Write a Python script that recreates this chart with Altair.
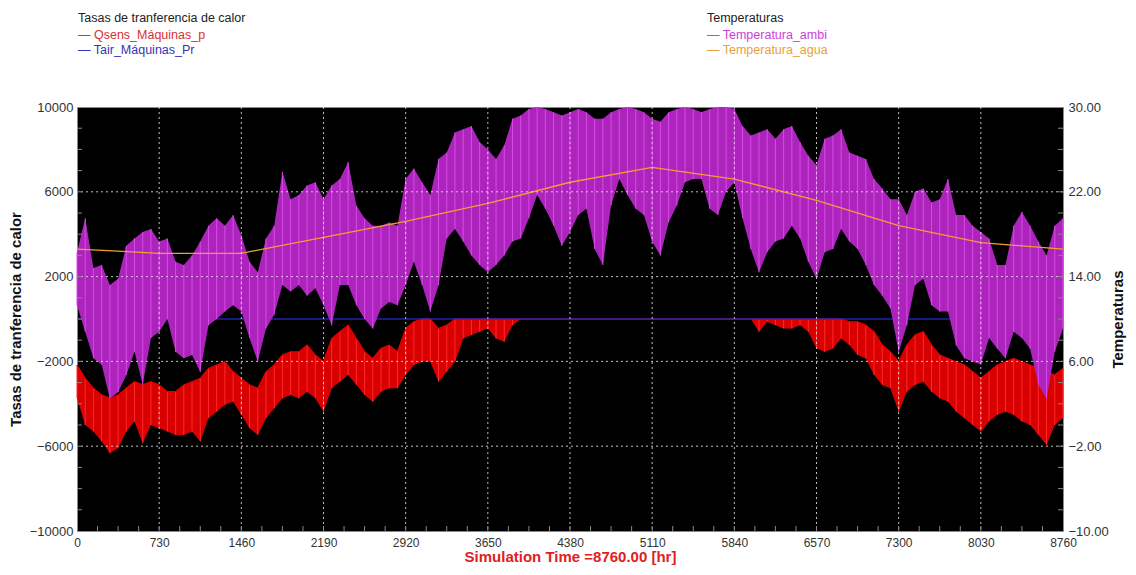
import altair as alt
import pandas as pd

# ---------------- data ----------------
HOURS = [0, 73, 146, 219, 292, 365, 438, 511, 584, 657, 730, 803, 876, 949, 1022, 1095, 1168, 1241,
         1314, 1387, 1460, 1533, 1606, 1679, 1752, 1825, 1898, 1971, 2044, 2117, 2190, 2263, 2336,
         2409, 2482, 2555, 2628, 2701, 2774, 2847, 2920, 2993, 3066, 3139, 3212, 3285, 3358, 3431,
         3504, 3577, 3650, 3723, 3796, 3869, 3942, 4015, 4088, 4161, 4234, 4307, 4380, 4453, 4526,
         4599, 4672, 4745, 4818, 4891, 4964, 5037, 5110, 5183, 5256, 5329, 5402, 5475, 5548, 5621,
         5694, 5767, 5840, 5913, 5986, 6059, 6132, 6205, 6278, 6351, 6424, 6497, 6570, 6643, 6716,
         6789, 6862, 6935, 7008, 7081, 7154, 7227, 7300, 7373, 7446, 7519, 7592, 7665, 7738, 7811,
         7884, 7957, 8030, 8103, 8176, 8249, 8322, 8395, 8468, 8541, 8614, 8687, 8760]

# Temperatura_ambi envelope (right axis, deg C)
AMB_HI = [16.3, 19.5, 14.8, 15.1, 13.2, 13.8, 16.9, 17.6, 18.2, 18.5,
          17.3, 17.6, 15.4, 15.1, 16.0, 17.3, 18.8, 19.5, 18.8, 19.8,
          17.9, 15.4, 14.4, 17.6, 18.8, 23.9, 21.3, 21.7, 22.6, 22.9,
          21.3, 22.6, 23.2, 24.8, 20.7, 19.5, 18.8, 18.8, 19.1, 18.8,
          23.2, 24.2, 22.9, 21.7, 25.1, 25.7, 27.6, 27.9, 28.2, 26.7,
          26.0, 25.1, 26.4, 28.9, 29.2, 29.8, 30.0, 29.8, 29.5, 29.2,
          29.5, 29.8, 29.5, 28.9, 28.9, 29.5, 29.8, 30.0, 29.8, 29.5,
          28.9, 28.6, 29.5, 29.8, 30.0, 29.8, 29.5, 29.8, 30.0, 30.0,
          29.8, 28.2, 27.3, 27.6, 27.9, 27.0, 27.9, 28.2, 26.7, 25.4,
          24.5, 27.0, 27.3, 27.9, 25.7, 25.4, 25.1, 23.2, 22.3, 21.3,
          21.3, 19.8, 22.0, 22.3, 21.0, 21.3, 23.2, 19.8, 19.8, 18.8,
          18.2, 17.6, 15.1, 15.1, 18.8, 20.1, 18.8, 17.3, 16.0, 18.8,
          19.5]
AMB_LO = [11.3, 8.8, 6.3, 5.7, 2.5, 3.1, 4.7, 6.9, 3.8, 8.2,
          8.8, 10.0, 6.9, 6.3, 6.6, 5.0, 9.4, 10.0, 10.7, 11.3,
          10.7, 8.2, 6.0, 9.1, 10.4, 13.2, 12.6, 13.2, 12.2, 12.9,
          11.3, 9.4, 13.2, 13.2, 11.3, 10.0, 9.1, 11.0, 11.6, 11.3,
          13.2, 15.4, 13.2, 10.7, 13.2, 17.6, 18.5, 17.3, 16.0, 15.1,
          14.4, 15.1, 16.0, 17.3, 17.6, 19.5, 21.7, 20.4, 18.8, 16.9,
          18.2, 19.8, 20.4, 16.6, 15.1, 20.7, 23.2, 21.7, 20.4, 19.8,
          17.3, 16.0, 19.1, 20.7, 22.9, 23.2, 23.2, 20.4, 19.8, 22.0,
          22.9, 19.5, 16.6, 14.4, 16.3, 17.3, 17.6, 18.8, 17.6, 15.4,
          13.8, 16.3, 16.6, 18.5, 17.3, 16.6, 15.1, 13.2, 12.2, 11.0,
          6.9, 9.4, 13.2, 13.8, 11.3, 10.7, 10.7, 7.5, 6.3, 6.0,
          5.7, 8.2, 7.2, 6.3, 8.8, 8.2, 7.2, 3.8, 2.5, 6.9,
          9.1]

# Qsens_Maquinas_p envelope (left axis)
Q_HI = [-2170, -2800, -3270, -3580, -3740, -3580, -3270, -2960, -3110, -2960,
        -3110, -3430, -3430, -3110, -2960, -2800, -2330, -2170, -2020, -2490,
        -2800, -3110, -3270, -2490, -2170, -1700, -1550, -1550, -1230, -1700,
        -2020, -920, -600, -290, -920, -1550, -1860, -1390, -1230, -1550,
        -450, -130, 0, 0, -450, -290,
        0, 0, 0, 0, 0, 0, 0, 0, 0, 0, 0, 0, 0, 0, 0, 0, 0, 0, 0, 0, 0, 0, 0, 0,
        0, 0, 0, 0, 0, 0, 0, 0, 0, 0, 0, 0, 0, 0, 0, 0, 0, 0, 0, 0, 0, 0, 0, 0,
        -130, -130, -290, -600, -1230, -1550, -2020, -1230, -760, -600,
        -1230, -1700, -1860, -2020, -2170, -2490, -2800, -2490, -2170, -2020,
        -1860, -2020, -2170, -2330, -2490, -2640, -2330]
Q_LO = [-3740, -5000, -5310, -5780, -6330, -6090, -5310, -4840, -5860, -5000,
        -5150, -5310, -5470, -5470, -5310, -5780, -4680, -4370, -4050, -3900,
        -4520, -5150, -5470, -4680, -4210, -3740, -3580, -3740, -3430, -3740,
        -4370, -3270, -2960, -2640, -3110, -3580, -3900, -3430, -3270, -3270,
        -2640, -2170, -2020, -2020, -2960, -2490, -2020, -920, -760, -600,
        -450, -920, -1070, -290,
        0, 0, 0, 0, 0, 0, 0, 0, 0, 0, 0, 0, 0, 0, 0, 0, 0, 0, 0, 0, 0, 0, 0, 0,
        0, 0, 0, 0, 0,
        -600, -130, -290, -450, -450, -290, -600,
        -1390, -1550, -1390, -920, -1230, -1700, -1860, -2640, -3110, -3270,
        -4370, -3430, -3110, -2960, -3430, -3740, -3900, -4370, -4680, -5000,
        -5310, -4840, -4520, -4370, -4520, -4840, -5000, -5470, -5940, -5000,
        -4680]

# Temperatura_agua (right axis)
AGUA_HOURS = [0, 365, 730, 1460, 2190, 2920, 3650, 4380, 5110, 5840, 6570, 7300, 8030, 8760]
AGUA_T = [16.6, 16.4, 16.2, 16.2, 17.7, 19.2, 20.9, 22.9, 24.3, 23.2, 21.2, 18.8, 17.2, 16.6]

# Tair_Maquinas_Pr (left axis)
TAIR_HOURS = [0, 8760]
TAIR_Q = [0, 0]

X_TICKS = [0, 730, 1460, 2190, 2920, 3650, 4380, 5110, 5840, 6570, 7300, 8030, 8760]
X_GRID = [730, 1460, 2190, 2920, 3650, 4380, 5110, 5840, 6570, 7300, 8030]
X_MINOR = [182.5, 365, 547.5, 730, 912.5, 1095, 1277.5, 1460, 1642.5, 1825, 2007.5, 2190,
           2372.5, 2555, 2737.5, 2920, 3102.5, 3285, 3467.5, 3650, 3832.5, 4015, 4197.5, 4380,
           4562.5, 4745, 4927.5, 5110, 5292.5, 5475, 5657.5, 5840, 6022.5, 6205, 6387.5, 6570,
           6752.5, 6935, 7117.5, 7300, 7482.5, 7665, 7847.5, 8030, 8212.5, 8395, 8577.5]
Q_TICKS = [-10000, -6000, -2000, 2000, 6000, 10000]
T_TICKS = [-10, -2, 6, 14, 22, 30]
T_GRID = [-2, 6, 14, 22]
T_MINOR = [-8, -6, -4, -2, 0, 2, 4, 6, 8, 10, 12, 14, 16, 18, 20, 22, 24, 26, 28]

LEFT_TITLE = "Tasas de tranferencia de calor"
RIGHT_TITLE = "Temperaturas"
X_TITLE = "Simulation Time =8760.00 [hr]"
LEG_LEFT = ["Tasas de tranferencia de calor", "— Qsens_Máquinas_p", "— Tair_Máquinas_Pr"]
LEG_RIGHT = ["Temperaturas", "— Temperatura_ambi", "— Temperatura_agua"]

# ---------------- chart ----------------
FONT = "Liberation Sans"
band = pd.DataFrame({"h": HOURS, "amb_hi": AMB_HI, "amb_lo": AMB_LO, "q_hi": Q_HI, "q_lo": Q_LO})
agua = pd.DataFrame({"h": AGUA_HOURS, "t": AGUA_T})
tair = pd.DataFrame({"h": TAIR_HOURS, "q": TAIR_Q})

xs = alt.Scale(domain=[0, 8760], nice=False, zero=False)
qs = alt.Scale(domain=[-10000, 10000], nice=False, zero=False)
ts = alt.Scale(domain=[-10, 30], nice=False, zero=False)

x_axis = alt.Axis(values=X_TICKS, title=X_TITLE, format="d", grid=False, ticks=False, domain=False,
                  labelFontSize=12, labelColor="#333333", labelPadding=6, labelFlush=False,
                  titleColor="#e02020", titleFontSize=15, titleFontWeight="bold", titlePadding=1)
q_axis = alt.Axis(values=Q_TICKS, title=LEFT_TITLE, orient="left", format="d", grid=False,
                  ticks=False, domain=False, labelFontSize=13, labelColor="#333333",
                  labelPadding=4, titleFontSize=15, titleFontWeight="bold",
                  titleColor="#111111", titlePadding=6)
t_axis = alt.Axis(values=T_TICKS, title=RIGHT_TITLE, orient="right", format=".2f", grid=False,
                  ticks=False, domain=False, labelFontSize=13, labelColor="#333333",
                  labelPadding=5, titleFontSize=15, titleFontWeight="bold", titleColor="#111111",
                  titleAngle=270, titlePadding=17)

def X(field):
    return alt.X(field, type="quantitative", scale=xs, axis=x_axis)

def QY(field):
    return alt.Y(field, type="quantitative", scale=qs, axis=q_axis)

def TY(field):
    return alt.Y(field, type="quantitative", scale=ts, axis=t_axis)

base = alt.Chart(band)
red_area = base.mark_area(color="#d80000").encode(x=X("h"), y=QY("q_lo"), y2="q_hi")
red_rules = base.mark_rule(color="#ff2a2a", strokeWidth=1).encode(x=X("h"), y=QY("q_lo"), y2="q_hi")
red_line = base.mark_line(color="#e00000", strokeWidth=1.2).encode(x=X("h"), y=QY("q_hi"))
blue_line = alt.Chart(tair).mark_line(color="#2a2ad8", opacity=0.6, strokeWidth=2).encode(
    x=X("h"), y=QY("q"))

def legend_text(label, color, xpx, ypx):
    return alt.Chart(pd.DataFrame({"t": [label]})).mark_text(
        align="left", baseline="middle", fontSize=12.5, font=FONT, color=color
    ).encode(text="t:N", x=alt.value(xpx), y=alt.value(ypx))

legends = [
    legend_text(LEG_LEFT[0], "#222222", 1, -89),
    legend_text(LEG_LEFT[1], "#d83030", 1, -72),
    legend_text(LEG_LEFT[2], "#3434b4", 1, -57),
    legend_text(LEG_RIGHT[0], "#222222", 630, -89),
    legend_text(LEG_RIGHT[1], "#d040d8", 630, -72),
    legend_text(LEG_RIGHT[2], "#e8a040", 630, -57),
]

left = alt.layer(red_area, red_rules, red_line, blue_line, *legends)

mag_area = base.mark_area(color="#ac24bc").encode(x=X("h"), y=TY("amb_lo"), y2="amb_hi")
mag_rules = base.mark_rule(color="#d84ae8", strokeWidth=1).encode(x=X("h"), y=TY("amb_lo"), y2="amb_hi")
orange = alt.Chart(agua).mark_line(color="#f0a030", strokeWidth=1.3).encode(x=X("h"), y=TY("t"))

hgrid = alt.Chart(pd.DataFrame({"g": T_GRID})).mark_rule(
    color="#e0e0e0", strokeDash=[2, 3], strokeWidth=1, opacity=0.85).encode(y=TY("g"))
vgrid = alt.Chart(pd.DataFrame({"g": X_GRID})).mark_rule(
    color="#e0e0e0", strokeDash=[2, 3], strokeWidth=1, opacity=0.85).encode(x=X("g"))
tick_df = pd.DataFrame({"m": T_MINOR})
lticks = alt.Chart(tick_df).mark_rule(color="#888888").encode(
    y=TY("m"), x=alt.value(0), x2=alt.value(5))
rticks = alt.Chart(tick_df).mark_rule(color="#888888").encode(
    y=TY("m"), x=alt.value(981), x2=alt.value(986))
bticks = alt.Chart(pd.DataFrame({"m": X_MINOR})).mark_rule(color="#888888").encode(
    x=X("m"), y=alt.value(419), y2=alt.value(424))

right = alt.layer(mag_area, mag_rules, orange, hgrid, vgrid, lticks, rticks, bticks)

chart = alt.layer(left, right).resolve_scale(y="independent").properties(
    width=986, height=424,
    autosize=alt.AutoSizeParams(type="none"),
    padding={"left": 69, "top": 99, "right": 65, "bottom": 36},
    background="white",
).configure(font=FONT).configure_view(fill="black", stroke="#8a8a8a", strokeWidth=1)

chart.save("out.html", embed_options={"renderer": "svg", "actions": False})
